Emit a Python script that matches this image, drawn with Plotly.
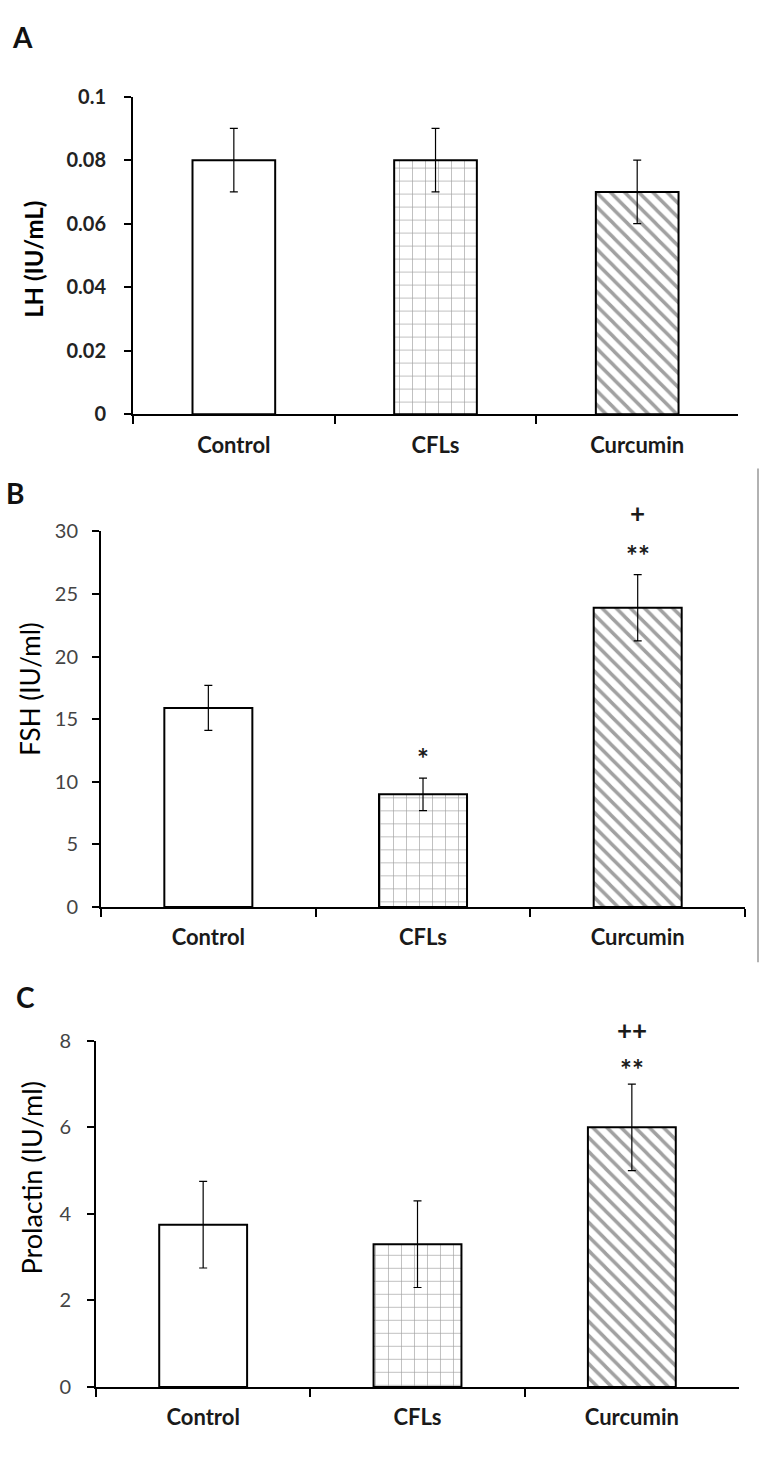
import plotly.graph_objects as go

categories = ["Control", "CFLs", "Curcumin"]

lh_mean = [0.08, 0.08, 0.07]
lh_err = [0.01, 0.01, 0.01]
lh_ticks = [0, 0.02, 0.04, 0.06, 0.08, 0.1]
lh_ticktext = ["0", "0.02", "0.04", "0.06", "0.08", "0.1"]

fsh_mean = [15.9, 9.0, 23.9]
fsh_err = [1.8, 1.3, 2.65]
fsh_ticks = [0, 5, 10, 15, 20, 25, 30]

prl_mean = [3.75, 3.3, 6.0]
prl_err = [1.0, 1.0, 1.0]
prl_ticks = [0, 2, 4, 6, 8]

fsh_stars = ["", "*", "**"]
fsh_plus = ["", "", "+"]
prl_stars = ["", "", "**"]
prl_plus = ["", "", "++"]

FONT = "Lato"

fill_colors = ["white", "white", "white"]
pattern_shapes = ["", "+", "\\"]
pattern_fg = ["black", "#c4c4c4", "#000000"]
pattern_size = [10, 13, 10]
pattern_sol = [0.2, 0.1, 0.35]

fig = go.Figure()


def add_bars(means, errs, xa, ya):
    fig.add_trace(go.Bar(
        x=categories, y=means, xaxis=xa, yaxis=ya,
        marker=dict(color=fill_colors,
                    line=dict(color="black", width=2),
                    pattern=dict(shape=pattern_shapes, fgcolor=pattern_fg,
                                 bgcolor="white", size=pattern_size,
                                 solidity=pattern_sol)),
        error_y=dict(type="data", array=errs, color="black", thickness=1.2, width=4),
        showlegend=False, hoverinfo="skip",
    ))


add_bars(lh_mean, lh_err, "x", "y")
add_bars(fsh_mean, fsh_err, "x2", "y2")
add_bars(prl_mean, prl_err, "x3", "y3")

xcommon = dict(type="category", showline=True, linecolor="black", linewidth=2,
               ticks="outside", tickson="boundaries", ticklen=8, tickwidth=2,
               tickcolor="black", showgrid=False, zeroline=False,
               tickfont=dict(family=FONT, size=22, color="#1a1a1a", weight="bold"),
               ticklabelstandoff=10, fixedrange=True)

ycommon = dict(showline=True, linecolor="black", linewidth=2, ticks="outside",
               ticklen=7, tickwidth=2, tickcolor="black", showgrid=False,
               zeroline=False, fixedrange=True)

fig.update_layout(
    width=760, height=1459, autosize=False,
    margin=dict(l=0, r=0, t=0, b=0, pad=0),
    paper_bgcolor="white", plot_bgcolor="white",
    bargap=0.59,
    xaxis=dict(domain=[0.1750, 0.9711], anchor="y", **xcommon),
    yaxis=dict(domain=[0.72036, 0.94174], anchor="x", range=[0, 0.1],
               tickvals=lh_ticks, ticktext=lh_ticktext,
               tickfont=dict(family=FONT, size=20, color="#222", weight="bold"),
               ticklabelstandoff=14, **ycommon),
    xaxis2=dict(domain=[0.1329, 0.9803], anchor="y2", **xcommon),
    yaxis2=dict(domain=[0.37697, 0.63879], anchor="x2", range=[0, 30],
                tickvals=fsh_ticks,
                tickfont=dict(family=FONT, size=20, color="#444444"),
                ticklabelstandoff=10, **ycommon),
    xaxis3=dict(domain=[0.1263, 0.9724], anchor="y3", **xcommon),
    yaxis3=dict(domain=[0.04249, 0.28376], anchor="x3", range=[0, 8],
                tickvals=prl_ticks,
                tickfont=dict(family=FONT, size=20, color="#444444"),
                ticklabelstandoff=12, **ycommon),
)

ann = []
# panel letters
for letter, px, py in [("A", 22, 24), ("B", 15, 488), ("C", 25, 1000)]:
    ann.append(dict(text=letter, x=px / 760, y=1 - py / 1459, xref="paper", yref="paper",
                    showarrow=False, xanchor="center", yanchor="middle",
                    font=dict(family=FONT, size=28, color="#111", weight="bold")))
# y titles
for title, px, py, size, wt in [("LH (IU/mL)", 34, 251, 24, "bold"),
                                ("FSH (IU/ml)", 30, 688, 26, "normal"),
                                ("Prolactin (IU/ml)", 32, 1185, 27, "normal")]:
    ann.append(dict(text=title, x=px / 760, y=1 - py / 1459, xref="paper", yref="paper",
                    showarrow=False, textangle=-90, xanchor="center", yanchor="middle",
                    font=dict(family=FONT, size=size, color="#000", weight=wt)))


def add_marks(marks, means, errs, xr, yr, shift, size):
    for c, m, v, e in zip(categories, marks, means, errs):
        if m:
            ann.append(dict(text=m, x=c, y=v + e, xref=xr, yref=yr, showarrow=False,
                            xanchor="center", yanchor="middle", yshift=shift,
                            font=dict(family=FONT, size=size, color="#1a1a1a", weight="bold")))


add_marks(fsh_stars, fsh_mean, fsh_err, "x2", "y2", 20, 28)
add_marks(fsh_plus, fsh_mean, fsh_err, "x2", "y2", 62, 26)
add_marks(prl_stars, prl_mean, prl_err, "x3", "y3", 15, 28)
add_marks(prl_plus, prl_mean, prl_err, "x3", "y3", 54, 26)

fig.update_layout(annotations=ann)

# right-hand border line seen in the reference (image crop edge)
fig.add_shape(type="line", xref="paper", yref="paper", x0=758 / 760, x1=758 / 760,
              y0=1 - 965 / 1459, y1=1 - 463 / 1459, line=dict(color="#999999", width=1.5))

fig.write_html("out.html", config={"displayModeBar": False},
               post_script="document.body.style.margin='0';")
